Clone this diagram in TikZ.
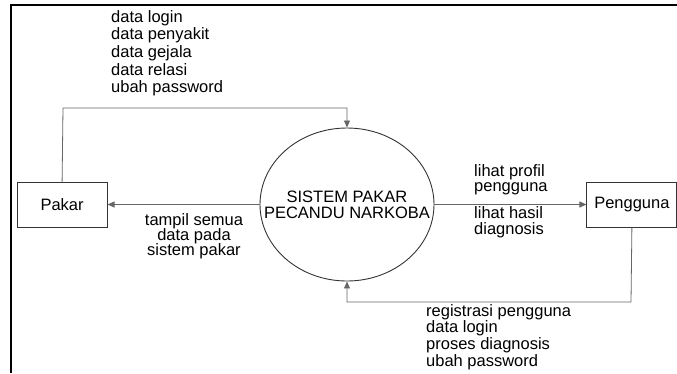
\documentclass[tikz,border=0pt]{standalone}
\usepackage{fontspec}
\setmainfont{Liberation Sans}
\usetikzlibrary{arrows.meta, positioning, shapes.geometric}
\definecolor{dfdline}{HTML}{666666}
\definecolor{dfdedge}{HTML}{333333}
\newcommand\dfdfont[1]{\fontsize{16.5}{#1}\selectfont\lineskiplimit=-20pt}

\begin{document}
\begin{tikzpicture}[
    x=1pt, y=-1pt,
    entity/.style={
      rectangle,
      draw=dfdedge,
      line width=0.9pt,
      minimum width=90pt,
      minimum height=45pt,
      font=\dfdfont{18}
    },
    process/.style={
      ellipse,
      draw=dfdedge,
      line width=0.9pt,
      minimum width=174pt,
      minimum height=153pt,
      inner sep=0pt
    },
    title/.style={inner sep=0pt, align=center, font=\dfdfont{15.7}},
    arr/.style={-{Triangle[length=7pt, width=6pt]}, line width=0.8pt, dfdline},
    flow/.style={inner sep=0pt, anchor=north west, align=left, font=\dfdfont{17.7}}
  ]
  \useasboundingbox (0,0) rectangle (677,373);
  \draw[line width=2.4pt] (11.2,373) -- (11.2,4.7) -- (677,4.7);

  \node[process] (proc) at (347,204.5) {};
  \node[title] (proctext) at (proc) {SISTEM PAKAR\\PECANDU NARKOBA};
  \node[entity, left=152pt of proc] (pakar) {Pakar};
  \node[entity, right=152pt of proc] (pengguna) {Pengguna};

  \coordinate (pakarup) at (63,108);
  \coordinate (penggunadown) at (631,302);

  \draw[arr] (pakar.north) -- (pakarup) -| (proc.north);
  \draw[arr] (proc.west) -- (pakar.east);
  \draw[arr] (proc.east) -- (pengguna.west);
  \draw[arr] (pengguna.south) -- (penggunadown) -| (proc.south);

  % data flow labels
  \node[flow] (lblpakar) at (111,9.9)
    {data login\\data penyakit\\data gejala\\data relasi\\ubah password};
  \node[flow, anchor=north, align=center, font=\dfdfont{15}] (lbltampil) at (194,213.2)
    {tampil semua\\data pada\\sistem pakar};
  \node[flow, font=\dfdfont{15}] (lblprofil) at (474,164.6) {lihat profil\\pengguna};
  \node[flow, font=\dfdfont{15.5}] (lblhasil) at (474,206.6) {lihat hasil\\diagnosis};
  \node[flow, font=\dfdfont{16.6}] (lblregis) at (426,304.2)
    {registrasi pengguna\\data login\\proses diagnosis\\ubah password};
\end{tikzpicture}
\end{document}
